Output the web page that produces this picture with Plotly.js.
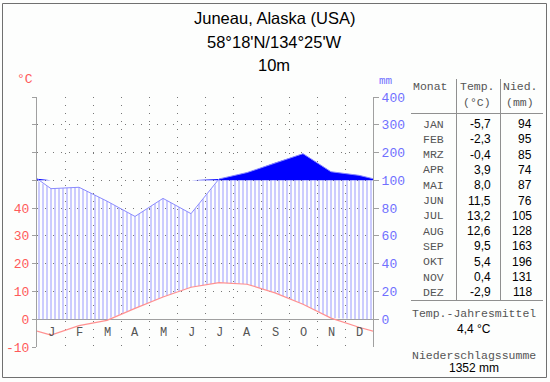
<!DOCTYPE html>
<html>
<head>
<meta charset="utf-8">
<script src="https://cdn.plot.ly/plotly-3.0.1.min.js"></script>
<style>html,body{margin:0;padding:0;background:#fdfefd;}#chart{width:550px;height:382px;}</style>
</head>
<body>
<div id="chart"></div>
<script>
// ---- data ----
const monthNames = ['JAN','FEB','MRZ','APR','MAI','JUN','JUL','AUG','SEP','OKT','NOV','DEZ'];
const monthLetters = ['J','F','M','A','M','J','J','A','S','O','N','D'];
const tempC = [-5.7, -2.3, -0.4, 3.9, 8.0, 11.5, 13.2, 12.6, 9.5, 5.4, 0.4, -2.9];
const precipMm = [94, 95, 85, 74, 87, 76, 105, 128, 163, 196, 131, 118];
const titleLines = ['Juneau, Alaska (USA)', "58°18'N/134°25'W", '10m'];
const leftTickVals = [-10, 0, 10, 20, 30, 40, 50, 60, 70, 80];
const leftTickText = ['-10', '0', '10', '20', '30', '40', '', '', '', ''];
const rightTickVals = [0, 10, 20, 30, 40, 50, 60, 70, 80];
const rightTickText = ['0', '20', '40', '60', '80', '100', '200', '300', '400'];

// ---- helpers ----
const W = 550, H = 382;
const px = x => x / W;
const py = y => 1 - y / H;
// Walter-Lieth precipitation scale: 20 mm = 10 °C up to 100 mm, then 100 mm per 10 units
const scaleP = p => p <= 100 ? p / 2 : 50 + (p - 100) / 10;
const fmt = v => v.toFixed(1).replace('.', ',');

// x positions: left edge, month centres, right edge (annual wrap-around)
const xs = [0].concat(tempC.map((_, i) => i + 0.5)).concat([12]);
const wrap = arr => { const e = (arr[0] + arr[arr.length - 1]) / 2; return [e].concat(arr).concat([e]); };
const tY = wrap(tempC);
const pY = wrap(precipMm).map(scaleP);
const lowY = tY.map(v => Math.max(v, 0));
const hatchTop = pY.map(v => Math.min(v, 50));
const solidTop = pY.map(v => Math.max(v, 50));
const base50 = pY.map(() => 50);

const traces = [
  {x: xs, y: lowY, mode: 'lines', line: {width: 0, color: 'rgba(0,0,0,0)'}, hoverinfo: 'skip'},
  {x: xs, y: hatchTop, mode: 'lines', line: {width: 0, color: 'rgba(0,0,0,0)'}, fill: 'tonexty',
   fillcolor: 'rgba(0,0,0,0)',
   fillpattern: {shape: '|', size: 4, solidity: 0.25, fgcolor: '#9a9aff', bgcolor: 'rgba(0,0,0,0)', fgopacity: 1},
   hoverinfo: 'skip'},
  {x: xs, y: base50, mode: 'lines', line: {width: 0, color: 'rgba(0,0,0,0)'}, hoverinfo: 'skip'},
  {x: xs, y: solidTop, mode: 'lines', line: {width: 0, color: 'rgba(0,0,0,0)'}, fill: 'tonexty',
   fillcolor: '#0000ff', hoverinfo: 'skip'},
  {x: xs, y: tY, mode: 'lines', line: {width: 1.2, color: '#ff9090'}, hoverinfo: 'skip'},
  {x: xs, y: pY, mode: 'lines', line: {width: 1, color: '#8a8aff'}, yaxis: 'y2', hoverinfo: 'skip'}
];

const annotations = [];
titleLines.forEach((t, i) => {
  annotations.push({xref: 'paper', yref: 'paper', x: px(274), y: py(18 + i * 23.5), xanchor: 'center', yanchor: 'middle',
    text: t, showarrow: false, font: {family: 'Liberation Sans, Arial', size: 16.5, color: '#000'}});
});
monthLetters.forEach((m, i) => {
  annotations.push({xref: 'x', yref: 'y', x: i + 0.5, y: -5, text: m, showarrow: false,
    xanchor: 'center', yanchor: 'middle', font: {family: 'Liberation Mono, Courier New', size: 12, color: '#555'}});
});
annotations.push({xref: 'paper', yref: 'paper', x: px(25), y: py(79), text: '°C', showarrow: false,
  xanchor: 'center', yanchor: 'middle', font: {family: 'Liberation Mono', size: 13, color: '#ff5a5a'}});
annotations.push({xref: 'paper', yref: 'paper', x: px(386), y: py(81), text: 'mm', showarrow: false,
  xanchor: 'center', yanchor: 'middle', font: {family: 'Liberation Mono', size: 11, color: '#7070ff'}});

// table
const mono = {family: 'Liberation Mono, Courier New', size: 11.5, color: '#555'};
const sans = {family: 'Liberation Sans, Arial', size: 12, color: '#000'};
const tA = (x, y, text, font, xa) => annotations.push({xref: 'paper', yref: 'paper', x: px(x), y: py(y), text: text,
  showarrow: false, xanchor: xa || 'center', yanchor: 'middle', font: font});
tA(430, 87, 'Monat', mono);
tA(477, 87, 'Temp.', mono);
tA(477, 103, '(°C)', mono);
tA(520, 87, 'Nied.', mono);
tA(520, 103, '(mm)', mono);
monthNames.forEach((m, i) => {
  const y = 124 + i * 15.3;
  tA(433, y, m, mono);
  tA(493, y, fmt(tempC[i]), sans, 'right');
  tA(534, y, String(precipMm[i]), sans, 'right');
});
const meanT = tempC.reduce((a, b) => a + b, 0) / tempC.length;
const sumP = precipMm.reduce((a, b) => a + b, 0);
tA(474, 313, 'Temp.-Jahresmittel', mono);
tA(474, 329, fmt(meanT) + ' °C', sans);
tA(474, 355, 'Niederschlagssumme', mono);
tA(474, 368, sumP + ' mm', sans);

const gl = {color: '#909090', width: 1};
const shapes = [
  {type: 'rect', xref: 'paper', yref: 'paper', x0: px(2.5), x1: px(546.5), y0: py(377.5), y1: py(3.5), line: {color: '#707070', width: 1}},
  {type: 'line', xref: 'paper', yref: 'paper', x0: px(456.5), x1: px(456.5), y0: py(79), y1: py(300.5), line: gl},
  {type: 'line', xref: 'paper', yref: 'paper', x0: px(500.5), x1: px(500.5), y0: py(79), y1: py(300.5), line: gl},
  {type: 'line', xref: 'paper', yref: 'paper', x0: px(411), x1: px(543), y0: py(113.5), y1: py(113.5), line: gl},
  {type: 'line', xref: 'paper', yref: 'paper', x0: px(411), x1: px(543), y0: py(300.5), y1: py(300.5), line: gl}
];

const layout = {
  width: W, height: H,
  margin: {l: 0, r: 0, t: 0, b: 0},
  paper_bgcolor: '#fdfefd', plot_bgcolor: 'rgba(0,0,0,0)',
  showlegend: false, hovermode: false,
  xaxis: {domain: [px(37), px(373)], range: [0, 12], tickvals: [1,2,3,4,5,6,7,8,9,10,11], showticklabels: false,
    ticks: '', showgrid: true, gridcolor: '#777', griddash: '1px,7px', gridwidth: 1, zeroline: false, showline: false, fixedrange: true},
  yaxis: {domain: [py(347), py(97)], range: [-10, 80], tickvals: leftTickVals, ticktext: leftTickText,
    showgrid: true, gridcolor: '#777', griddash: '1px,7px', gridwidth: 1,
    zeroline: true, zerolinecolor: '#a0a0a0', zerolinewidth: 1,
    showline: true, linecolor: '#a0a0a0', linewidth: 1, ticks: 'outside', ticklen: 4, tickcolor: '#a0a0a0',
    tickfont: {family: 'Liberation Mono, Courier New', size: 13, color: '#ff5a5a'}, fixedrange: true},
  yaxis2: {overlaying: 'y', side: 'right', anchor: 'x', range: [-10, 80], tickvals: rightTickVals, ticktext: rightTickText,
    showgrid: false, zeroline: false, showline: true, linecolor: '#a0a0a0', linewidth: 1, ticks: 'outside', ticklen: 5, tickcolor: '#a0a0a0',
    tickfont: {family: 'Liberation Mono, Courier New', size: 13, color: '#7070ff'}, fixedrange: true},
  annotations: annotations,
  shapes: shapes
};

Plotly.newPlot('chart', traces, layout, {staticPlot: true, displayModeBar: false});
</script>
</body>
</html>
